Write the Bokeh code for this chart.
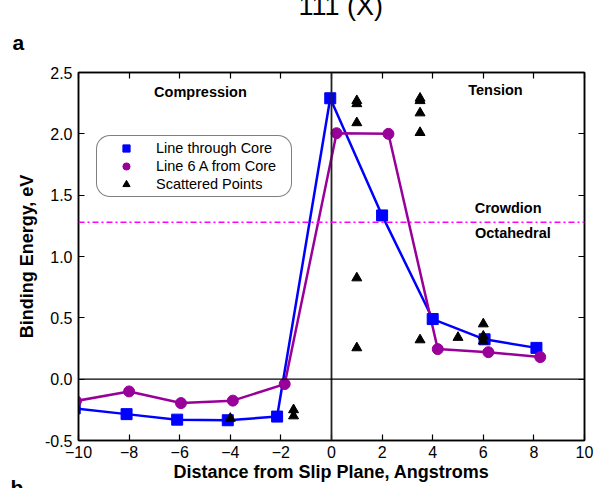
from bokeh.plotting import figure
from bokeh.models import (LinearAxis, Range1d, Span, Label, Legend, LegendItem, Title,
                          NumeralTickFormatter, FixedTicker, CustomJSTickFormatter)
from bokeh.embed import file_html
from bokeh.resources import INLINE

# ---- data ----
core_x = [-10.15, -8.1, -6.1, -4.1, -2.15, -0.05, 2.0, 4.0, 6.05, 8.1]
core_y = [-0.238, -0.285, -0.33, -0.335, -0.305, 2.29, 1.335, 0.49, 0.325, 0.255]

six_x = [-10.1, -8.0, -5.95, -3.9, -1.85, 0.2, 2.25, 4.2, 6.2, 8.25]
six_y = [-0.178, -0.10, -0.195, -0.175, -0.04, 2.005, 2.0, 0.245, 0.22, 0.18]

scat_x = [-4.0, -1.5, -1.5, 1.0, 1.0, 1.0, 1.0, 1.0, 3.5, 3.5, 3.5, 3.5, 3.5, 5.0, 6.0, 6.0, 6.0]
scat_y = [-0.32, -0.25, -0.30, 2.27, 2.245, 2.09, 0.825, 0.255, 2.29, 2.27, 2.17, 2.01, 0.32, 0.34, 0.45, 0.35, 0.31]

crowdion_level = 1.28
x_ticks = [-10, -8, -6, -4, -2, 0, 2, 4, 6, 8, 10]
y_ticks = [-0.5, 0.0, 0.5, 1.0, 1.5, 2.0, 2.5]

FONT = "Liberation Sans"
BLUE = "#0000FF"
PURPLE = "#990099"
MAGENTA = "#FF00FF"

W, H = 597, 488
LEFT, TOP, RIGHT, BOTTOM = 78, 70, 13, 47
p = figure(width=W, height=H, output_backend="svg", toolbar_location=None,
           x_range=Range1d(-10, 10), y_range=Range1d(-0.5, 2.5),
           min_border_left=LEFT, min_border_right=RIGHT, min_border_top=TOP,
           min_border_bottom=BOTTOM,
           x_axis_label="Distance from Slip Plane, Angstroms",
           y_axis_label="Binding Energy, eV")
p.grid.visible = False
p.outline_line_color = "black"
p.outline_line_width = 1.5
p.background_fill_color = "white"
p.border_fill_color = "white"

def style_axis(ax, ticks, show_labels=True):
    ax.ticker = FixedTicker(ticks=ticks)
    ax.major_tick_in = 6
    ax.major_tick_out = 0
    ax.minor_tick_line_color = None
    ax.axis_line_color = "black"
    ax.axis_line_width = 1.5
    ax.major_tick_line_width = 1.2
    ax.major_label_text_font = FONT
    ax.major_label_text_font_size = "16px"
    ax.major_label_text_color = "black"
    ax.axis_label_text_font = FONT
    ax.axis_label_text_font_size = "18px"
    ax.axis_label_text_font_style = "bold"
    ax.axis_label_text_color = "black"
    if not show_labels:
        ax.formatter = CustomJSTickFormatter(code="return ''")
        ax.major_label_text_color = None
        ax.major_label_standoff = 0

xa = p.xaxis[0]
ya = p.yaxis[0]
style_axis(xa, x_ticks)
style_axis(ya, y_ticks)
xa.major_label_standoff = 5
xa.axis_label_standoff = 1
ya.major_label_standoff = 6
ya.axis_label_standoff = 5
ya.formatter = NumeralTickFormatter(format="0.0")

top = LinearAxis()
style_axis(top, x_ticks, show_labels=False)
p.add_layout(top, "above")
right = LinearAxis()
style_axis(right, y_ticks, show_labels=False)
p.add_layout(right, "right")

# zero lines
p.add_layout(Span(location=0, dimension="height", line_color="#222222", line_width=1.8))
p.add_layout(Span(location=0, dimension="width", line_color="black", line_width=1.3))
# crowdion/octahedral boundary
p.add_layout(Span(location=crowdion_level, dimension="width", line_color=MAGENTA,
                  line_width=1.5, line_dash="6 3 2 3"))

p.line(core_x, core_y, line_color=BLUE, line_width=2.5)
p.line(six_x, six_y, line_color=PURPLE, line_width=2.5)
r_sq = p.scatter(core_x, core_y, marker="square", size=11, fill_color=BLUE, line_color=BLUE)
r_ci = p.scatter(six_x, six_y, marker="circle", size=11, fill_color=PURPLE, line_color=PURPLE)
r_tr = p.scatter(scat_x, scat_y, marker="triangle", size=10, fill_color="black", line_color="black")

legend = Legend(items=[LegendItem(label="Line through Core", renderers=[r_sq]),
                       LegendItem(label="Line 6 A from Core", renderers=[r_ci]),
                       LegendItem(label="Scattered Points", renderers=[r_tr])],
                location=(18, 243), padding=3, spacing=0, glyph_width=52, glyph_height=18,
                label_height=18, label_width=132, label_standoff=4, margin=0,
                label_text_font=FONT, label_text_font_size="14.5px", label_text_color="black",
                label_text_baseline="middle",
                border_line_color="black", border_line_width=1.3,
                background_fill_color="white", background_fill_alpha=1.0)
try:
    legend.border_radius = 14
except Exception:
    pass
p.add_layout(legend, "center")

def note(x, y, t):
    p.add_layout(Label(x=x, y=y, text=t, text_font=FONT, text_font_size="14.5px",
                       text_font_style="bold", text_align="center",
                       text_baseline="middle", text_color="black"))

note(-5.18, 2.34, "Compression")
note(6.48, 2.355, "Tension")
note(6.98, 1.395, "Crowdion")
note(7.17, 1.19, "Octahedral")

# panel title and letters as Title objects in the side panels
p.title.text = "111 (X)"
p.title.align = "left"
p.title.offset = 220
p.title.standoff = -23
p.title.text_font = FONT
p.title.text_font_size = "27px"
p.title.text_font_style = "normal"
p.title.text_color = "black"
p.add_layout(Title(text="a", align="left", offset=-66, standoff=38, text_font=FONT,
                   text_font_size="21px", text_font_style="bold", text_color="black"),
             "above")
p.add_layout(Title(text="b", align="left", offset=-68, standoff=-21, text_font=FONT,
                   text_font_size="21px", text_font_style="bold", text_color="black"),
             "below")

open("out.html", "w").write(file_html(p, INLINE))
